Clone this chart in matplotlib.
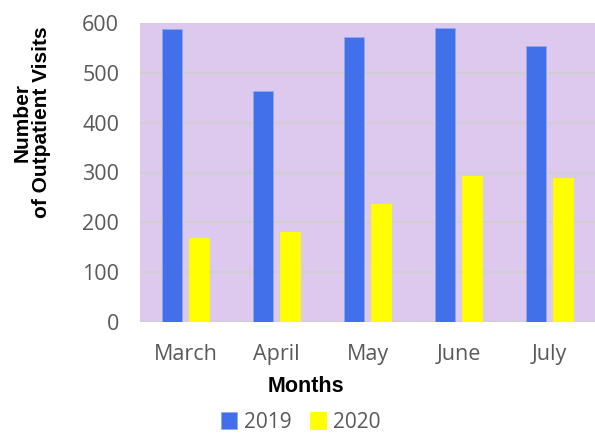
import numpy as np
import matplotlib.pyplot as plt

months = ["March", "April", "May", "June", "July"]
visits_2019 = [588, 463, 571, 589, 554]
visits_2020 = [169, 180, 237, 293, 289]

tick_font = "Open Sans"
bold_font = "Liberation Sans"

fig = plt.figure(figsize=(5.95, 4.33), dpi=100)
ax = fig.add_axes([140 / 595, 1 - 322 / 433, 455 / 595, 299 / 433])
ax.set_facecolor("#dcc9ed")

x = np.arange(len(months))
w = 0.22
b1 = ax.bar(x - 0.145, visits_2019, w, color="#4170ea", edgecolor="#90a8f0",
            linewidth=0.6, label="2019", zorder=3)
b2 = ax.bar(x + 0.145, visits_2020, w, color="#ffff00", edgecolor="#ffff00",
            linewidth=0.6, label="2020", zorder=3)

ax.set_xlim(-0.5, len(months) - 0.5)
ax.set_ylim(0, 600)
ax.set_yticks(range(0, 601, 100))
ax.set_xticks(x)
ax.set_xticklabels(months)
ax.grid(axis="y", color="#cfcfcf", linewidth=1.3, zorder=1)
for s in ax.spines.values():
    s.set_visible(False)
ax.tick_params(length=0, labelsize=15.5, labelcolor="#595959")
ax.tick_params(axis="y", pad=15)
ax.tick_params(axis="x", pad=16)
for lab in ax.get_xticklabels() + ax.get_yticklabels():
    lab.set_fontfamily(tick_font)

fig.text(306 / 595, 1 - 386 / 433, "Months", ha="center", va="center",
         fontsize=15.5, fontweight="bold", family=bold_font)
fig.text(32 / 595, 1 - 122 / 433, "Number\nof Outpatient Visits", ha="center",
         va="center", rotation=90, multialignment="center", fontsize=15,
         fontweight="bold", family=bold_font, linespacing=1.0)

fig.legend(handles=[b1, b2], loc="center", bbox_to_anchor=(301 / 595, 1 - 422 / 433),
           ncol=2, frameon=False, handlelength=0.75, handleheight=0.9,
           handletextpad=0.35, columnspacing=0.9,
           prop={"family": tick_font, "size": 15})
for t in fig.legends[0].get_texts():
    t.set_color("#595959")

fig.savefig("out.png", dpi=100)
